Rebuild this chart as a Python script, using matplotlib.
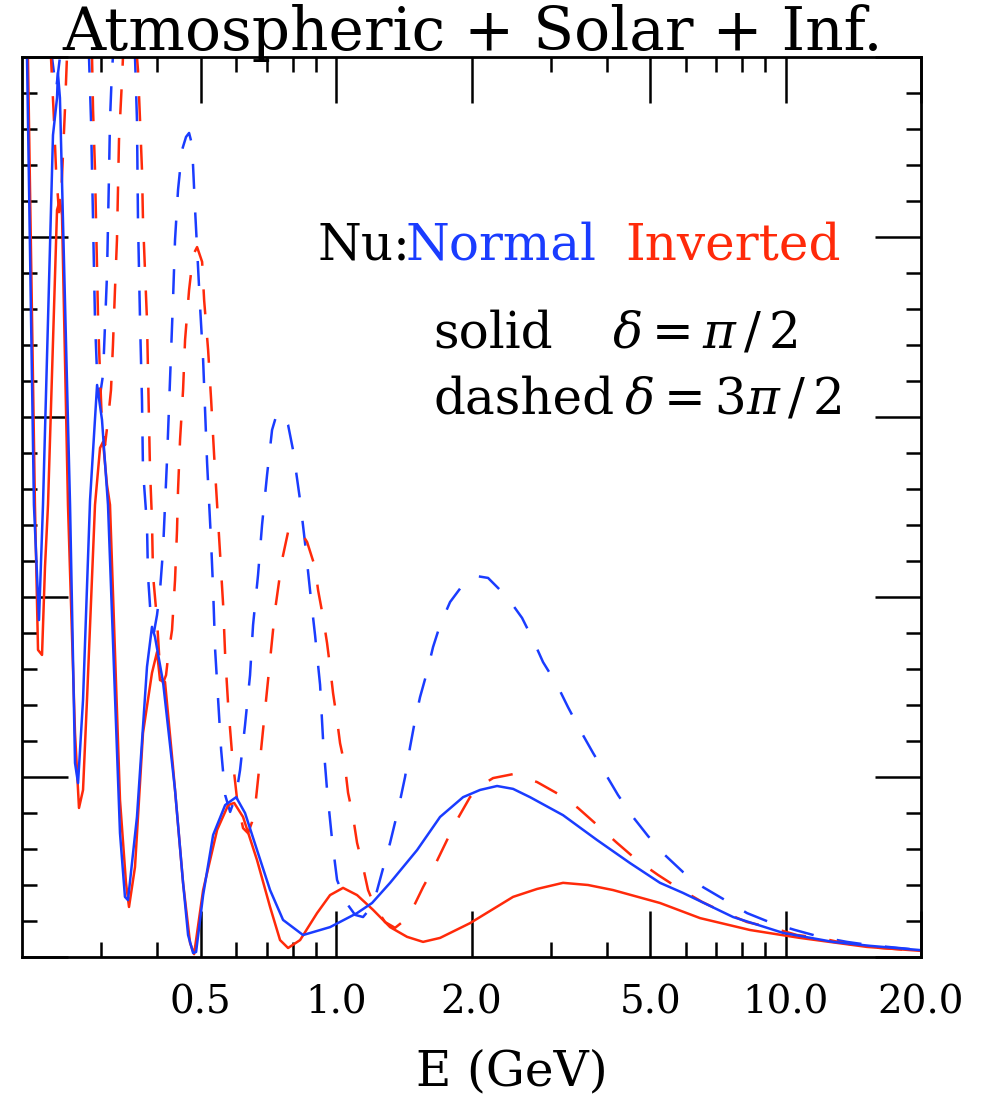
import matplotlib
matplotlib.use("Agg")
import matplotlib.pyplot as plt
from matplotlib.ticker import FixedLocator, NullFormatter, FixedFormatter, MultipleLocator

plt.rcParams['font.family'] = ['DejaVu Serif']
plt.rcParams['mathtext.fontset'] = 'dejavuserif'
plt.rcParams['axes.unicode_minus'] = False
plt.rcParams['lines.scale_dashes'] = False

# ---------------- data (E in GeV, appearance probability) ----------------
E_no_pi2 = [0.200, 0.2052, 0.2126, 0.2182, 0.2227, 0.2285, 0.2344, 0.2393, 0.2404, 0.2429,
            0.2558, 0.2624, 0.2665, 0.2734, 0.2834, 0.2938, 0.3013, 0.3107, 0.3304, 0.3389,
            0.3442, 0.3604, 0.3794, 0.3892, 0.3953, 0.4119, 0.4380, 0.4564, 0.4683, 0.4805,
            0.4879, 0.5058, 0.5324, 0.5662, 0.5990, 0.6269, 0.6667, 0.7127, 0.7617, 0.8439,
            0.9691, 1.1129, 1.2017, 1.3179, 1.5134, 1.7024, 1.9155, 2.0892, 2.2798, 2.4746,
            2.6993, 3.1962, 3.8040, 4.5040, 5.253, 5.910, 7.639, 9.865, 12.74, 15.40, 20.0]
P_no_pi2 = [0.280, 0.250, 0.1256, 0.0936, 0.1256, 0.1769, 0.2283, 0.2386, 0.2456, 0.2386,
            0.1256, 0.0539, 0.0483, 0.0714, 0.1269, 0.1589, 0.1492, 0.1256, 0.0344, 0.0167,
            0.0158, 0.0389, 0.0806, 0.0917, 0.0889, 0.0764, 0.0464, 0.0206, 0.0061, 0.0011,
            0.0014, 0.0172, 0.0339, 0.0422, 0.0444, 0.0400, 0.0297, 0.0186, 0.0103, 0.0061,
            0.0083, 0.0122, 0.0150, 0.0206, 0.0297, 0.0389, 0.0444, 0.0464, 0.0475, 0.0467,
            0.0444, 0.0394, 0.0325, 0.0261, 0.0206, 0.0178, 0.0111, 0.0067, 0.0042, 0.0031, 0.0019]

E_io_pi2 = [0.200, 0.2062, 0.2137, 0.2171, 0.2216, 0.2250, 0.2285, 0.2393, 0.2429, 0.2455,
            0.2531, 0.2624, 0.2678, 0.2734, 0.2790, 0.2907, 0.2983, 0.3029, 0.3091, 0.3139,
            0.3304, 0.3407, 0.3460, 0.3568, 0.3717, 0.3892, 0.3994, 0.4056, 0.4161, 0.4335,
            0.4564, 0.4731, 0.4829, 0.5058, 0.5434, 0.5750, 0.5930, 0.6206, 0.6667, 0.7127,
            0.7501, 0.7816, 0.8311, 0.9067, 0.9691, 1.0358, 1.1129, 1.2079, 1.3179, 1.4376,
            1.5605, 1.7024, 1.9848, 2.4746, 2.7979, 3.1962, 3.6323, 4.1285, 5.253, 6.450,
            8.330, 10.76, 15.16, 20.0]
P_io_pi2 = [0.280, 0.250, 0.1256, 0.0853, 0.0839, 0.1083, 0.1256, 0.2075, 0.2103, 0.2061,
            0.1256, 0.0622, 0.0414, 0.0464, 0.0714, 0.1256, 0.1414, 0.1431, 0.1311, 0.1256,
            0.0436, 0.0206, 0.0139, 0.0250, 0.0622, 0.0789, 0.0847, 0.0769, 0.0764, 0.0528,
            0.0206, 0.0039, 0.0008, 0.0186, 0.0353, 0.0422, 0.0428, 0.0389, 0.0269, 0.0139,
            0.0047, 0.0025, 0.0047, 0.0122, 0.0172, 0.0192, 0.0172, 0.0131, 0.0083, 0.0056,
            0.0042, 0.0053, 0.0094, 0.0167, 0.0189, 0.0206, 0.0200, 0.0186, 0.0150, 0.0108,
            0.0075, 0.0053, 0.0028, 0.0017]

E_no_3pi2 = [0.200, 0.2182, 0.2332, 0.2381, 0.2429, 0.2665, 0.2819, 0.2848, 0.2863, 0.2878,
             0.2892, 0.2907, 0.2938, 0.2983, 0.3029, 0.3060, 0.3091, 0.3107, 0.3123, 0.3139,
             0.3171, 0.3187, 0.3389, 0.3568, 0.3604, 0.3623, 0.3661, 0.3698, 0.3717, 0.3794,
             0.3813, 0.3872, 0.3933, 0.3994, 0.4056, 0.4119, 0.4204, 0.4269, 0.4335, 0.4380,
             0.4448, 0.4541, 0.4634, 0.4707, 0.4780, 0.4854, 0.4980, 0.5058, 0.5162, 0.5270,
             0.5324, 0.5379, 0.5462, 0.5547, 0.5662, 0.5808, 0.5990, 0.6111, 0.6269, 0.6432,
             0.6532, 0.6701, 0.6840, 0.7018, 0.7200, 0.7387, 0.7617, 0.7816, 0.8018, 0.8311,
             0.8526, 0.8745, 0.8974, 0.9208, 0.9350, 0.9543, 0.9792, 1.0045, 1.0358, 1.0627,
             1.1017, 1.1475, 1.2079, 1.2649, 1.3179, 1.3729, 1.4230, 1.4599, 1.4978, 1.5366,
             1.5929, 1.6424, 1.7024, 1.7920, 1.9350, 2.0575, 2.1770, 2.3997, 2.5910, 2.7411,
             2.8856, 3.0993, 3.2790, 3.4866, 3.7270, 3.9630, 4.2356, 4.5737, 4.9397, 5.389,
             5.910, 6.550, 7.333, 8.203, 9.325, 10.49, 11.92, 13.68, 15.40, 20.0]
P_no_3pi2 = [0.300, 0.360, 0.250, 0.2408, 0.250, 0.360, 0.250, 0.2325, 0.2186, 0.2047,
             0.1908, 0.1769, 0.1617, 0.1561, 0.1617, 0.1756, 0.1894, 0.2033, 0.2172, 0.2325,
             0.2464, 0.250, 0.360, 0.250, 0.2325, 0.2047, 0.1769, 0.1547, 0.1353, 0.1200,
             0.1061, 0.0936, 0.0903, 0.0950, 0.1019, 0.1131, 0.1381, 0.1603, 0.1825, 0.1992,
             0.2131, 0.2242, 0.2278, 0.2289, 0.2256, 0.2075, 0.1806, 0.1658, 0.1372, 0.1150,
             0.1019, 0.0853, 0.0714, 0.0575, 0.0450, 0.0403, 0.0450, 0.0519, 0.0644, 0.0783,
             0.0922, 0.1061, 0.1200, 0.1339, 0.1464, 0.1511, 0.1506, 0.1478, 0.1408, 0.1269,
             0.1150, 0.1019, 0.0894, 0.0756, 0.0603, 0.0464, 0.0325, 0.0214, 0.0172, 0.0144,
             0.0117, 0.0111, 0.0144, 0.0236, 0.0317, 0.0408, 0.0500, 0.0583, 0.0658, 0.0722,
             0.0792, 0.0861, 0.0922, 0.0986, 0.1042, 0.1058, 0.1053, 0.1000, 0.0942, 0.0881,
             0.0819, 0.0756, 0.0694, 0.0631, 0.0567, 0.0511, 0.0450, 0.0389, 0.0336, 0.0283,
             0.0236, 0.0194, 0.0158, 0.0122, 0.0094, 0.0075, 0.0056, 0.0042, 0.0033, 0.0019]

E_io_3pi2 = [0.200, 0.2193, 0.2320, 0.2356, 0.2381, 0.2417, 0.2442, 0.2467, 0.2492, 0.2518,
             0.2692, 0.2863, 0.2878, 0.2907, 0.2922, 0.2938, 0.2953, 0.2983, 0.3013, 0.3060,
             0.3107, 0.3155, 0.3187, 0.3220, 0.3253, 0.3270, 0.3287, 0.3338, 0.3355, 0.3478,
             0.3604, 0.3623, 0.3661, 0.3698, 0.3717, 0.3755, 0.3794, 0.3813, 0.3833, 0.3853,
             0.3892, 0.3913, 0.3994, 0.4056, 0.4119, 0.4183, 0.4226, 0.4313, 0.4380, 0.4425,
             0.4448, 0.4494, 0.4564, 0.4611, 0.4707, 0.4805, 0.4904, 0.5032, 0.5084, 0.5189,
             0.5270, 0.5351, 0.5434, 0.5519, 0.5604, 0.5662, 0.5750, 0.5869, 0.6021, 0.6206,
             0.6366, 0.6498, 0.6599, 0.6770, 0.6946, 0.7127, 0.7312, 0.7579, 0.7816, 0.8226,
             0.8614, 0.8974, 0.9114, 0.9350, 0.9543, 0.9691, 0.9841, 1.0045, 1.0200, 1.0465,
             1.0627, 1.0903, 1.1129, 1.1475, 1.1773, 1.2203, 1.2846, 1.3520, 1.4230, 1.4749,
             1.5605, 1.6594, 1.7647, 1.8670, 1.9848, 2.1111, 2.2334, 2.4746, 2.7979, 3.1474,
             3.4509, 3.8040, 4.2140, 4.6685, 5.199, 5.761, 6.517, 7.258, 8.203, 9.325,
             10.60, 11.92, 13.41, 15.16, 20.0]
P_io_3pi2 = [0.300, 0.360, 0.250, 0.2325, 0.2186, 0.2069, 0.2103, 0.2228, 0.2353, 0.250,
             0.360, 0.250, 0.2353, 0.2186, 0.2047, 0.1908, 0.1769, 0.1617, 0.1478, 0.1422,
             0.1492, 0.1575, 0.1700, 0.1853, 0.1992, 0.2131, 0.2269, 0.2436, 0.250, 0.360,
             0.250, 0.2464, 0.2325, 0.2186, 0.2047, 0.1908, 0.1769, 0.1631, 0.1492, 0.1353,
             0.1214, 0.1061, 0.0936, 0.0797, 0.0761, 0.0783, 0.0833, 0.0908, 0.1047, 0.1186,
             0.1297, 0.1436, 0.1575, 0.1714, 0.1853, 0.1950, 0.1972, 0.1931, 0.1825, 0.1686,
             0.1547, 0.1394, 0.1256, 0.1117, 0.0978, 0.0839, 0.0700, 0.0561, 0.0436, 0.0358,
             0.0344, 0.0375, 0.0414, 0.0547, 0.0686, 0.0825, 0.0964, 0.1103, 0.1181, 0.1192,
             0.1153, 0.1083, 0.1019, 0.0944, 0.0872, 0.0806, 0.0733, 0.0658, 0.0594, 0.0528,
             0.0456, 0.0389, 0.0317, 0.0250, 0.0186, 0.0139, 0.0097, 0.0081, 0.0103, 0.0131,
             0.0194, 0.0256, 0.0325, 0.0386, 0.0444, 0.0478, 0.0497, 0.0508, 0.0486, 0.0450,
             0.0414, 0.0367, 0.0317, 0.0269, 0.0228, 0.0192, 0.0153, 0.0125, 0.0097, 0.0081,
             0.0061, 0.0053, 0.0039, 0.0028, 0.0017]

x_major = [0.5, 1.0, 2.0, 5.0, 10.0, 20.0]
x_major_labels = ["0.5", "1.0", "2.0", "5.0", "10.0", "20.0"]
x_minor = [0.3, 0.4, 0.6, 0.7, 0.8, 0.9, 3.0, 4.0, 6.0, 7.0, 8.0, 9.0]

title_text = "Atmospheric + Solar + Inf."
xlabel_text = "E (GeV)"

BLUE = "#1a3cff"
RED = "#ff2a0a"

# ---------------- figure ----------------
W, H = 985, 1106
fig = plt.figure(figsize=(W / 100, H / 100), dpi=100)
ax = fig.add_axes([22 / W, (H - 957) / H, 899 / W, 900 / H])

lw = 1.8
dash = (0, (18, 17))
ax.plot(E_no_3pi2, P_no_3pi2, color=BLUE, lw=lw, linestyle=dash)
ax.plot(E_io_3pi2, P_io_3pi2, color=RED, lw=lw, linestyle=dash)
ax.plot(E_io_pi2, P_io_pi2, color=RED, lw=lw)
ax.plot(E_no_pi2, P_no_pi2, color=BLUE, lw=lw)

ax.set_xscale('log')
ax.set_xlim(0.2, 20.0)
ax.set_ylim(0.0, 0.25)

ax.xaxis.set_major_locator(FixedLocator(x_major))
ax.xaxis.set_major_formatter(FixedFormatter(x_major_labels))
ax.xaxis.set_minor_locator(FixedLocator(x_minor))
ax.xaxis.set_minor_formatter(NullFormatter())
ax.yaxis.set_major_locator(MultipleLocator(0.05))
ax.yaxis.set_minor_locator(MultipleLocator(0.01))
ax.yaxis.set_major_formatter(NullFormatter())

ax.tick_params(which='both', direction='in', top=True, right=True, width=1.8, colors='black')
ax.tick_params(which='major', length=33)
ax.tick_params(which='minor', length=11)
ax.tick_params(axis='x', which='major', pad=20, labelsize=28)
for s in ax.spines.values():
    s.set_linewidth(2.0)

fig.text(473 / W, 1 - 50 / H, title_text, ha='center', va='baseline', fontsize=43)
fig.text(512 / W, 1 - 1085 / H, xlabel_text, ha='center', va='baseline', fontsize=35)

def ftext(px, py, s, color='black', size=36):
    fig.text(px / W, 1 - py / H, s, ha='left', va='baseline', color=color, fontsize=size)

ftext(318, 260, "Nu:")
ftext(405, 260, "Normal", BLUE)
ftext(625, 260, "Inverted", RED)
ftext(433, 347, "solid")
ftext(612, 347, r"$\delta=\pi\,/\,2$")
ftext(433, 413, "dashed")
ftext(624, 413, r"$\delta=3\pi\,/\,2$")

fig.savefig("out.png", dpi=100)
